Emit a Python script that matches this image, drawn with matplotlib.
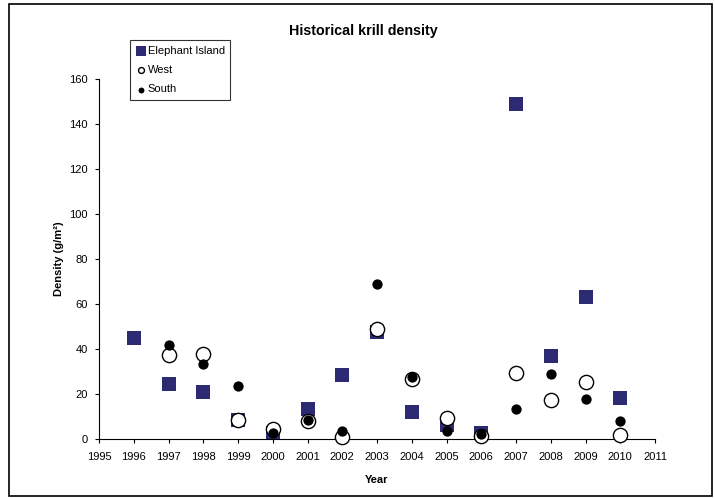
import matplotlib
matplotlib.use("Agg")
import matplotlib.pyplot as plt
from matplotlib.patches import Rectangle

plt.rcParams['font.family'] = ['Liberation Sans', 'DejaVu Sans']

years = list(range(1996, 2011))
elephant = [45, 24.4, 20.9, 8.4, 2.7, 13.3, 28.4, 47.5, 12, 6.2, 2.7, 148.9, 36.9, 63.1, 18.2]
west_years = list(range(1997, 2011))
west = [37.3, 37.8, 8.4, 4.4, 8, 0.9, 48.9, 26.7, 9.3, 1.3, 29.3, 17.3, 25.3, 1.8]
south_years = list(range(1997, 2011))
south = [41.8, 33.3, 23.6, 2.7, 8.4, 3.6, 68.9, 27.6, 3.6, 2.2, 13.3, 28.9, 17.8, 8]
xticks = list(range(1995, 2012))
yticks = [0, 20, 40, 60, 80, 100, 120, 140, 160]

fig = plt.figure(figsize=(7.15, 4.99), dpi=100)
fig.patches.append(Rectangle((9/715, 3/499), 703/715, 492/499, transform=fig.transFigure,
                             fill=False, edgecolor='black', linewidth=1.2))
ax = fig.add_axes([99/715, 1-439/499, 556/715, 360/499])

h1 = ax.scatter(years, elephant, marker='s', s=115, color='#2B2A72', linewidth=0, zorder=2, clip_on=False, label='Elephant Island')
h2 = ax.scatter(west_years, west, marker='o', s=105, facecolor='white', edgecolor='black', linewidth=1.0, zorder=3, clip_on=False, label='West')
h3 = ax.scatter(south_years, south, marker='o', s=55, color='black', linewidth=0, zorder=4, clip_on=False, label='South')

ax.set_xlim(1995, 2011)
ax.set_ylim(0, 160)
ax.set_xticks(xticks)
ax.set_yticks(yticks)
ax.tick_params(labelsize=8, length=3, width=0.8, direction='out')
ax.tick_params(axis='x', pad=6)
ax.tick_params(axis='y', pad=5)
for s in ['top', 'right']:
    ax.spines[s].set_visible(False)
ax.spines['left'].set_linewidth(0.8)
ax.spines['bottom'].set_linewidth(0.8)

fig.text(363/715, 1-31/499, 'Historical krill density', ha='center', va='center', fontsize=10.3, fontweight='bold')
fig.text(377/715, 1-480/499, 'Year', ha='center', va='center', fontsize=8, fontweight='bold')
fig.text(59/715, 1-259/499, 'Density (g/m²)', ha='center', va='center', rotation=90, fontsize=8, fontweight='bold')

leg = ax.legend(handles=[h1, h2, h3], loc='upper left', bbox_to_anchor=(130/715, 1-40/499),
                bbox_transform=fig.transFigure, fontsize=8, frameon=True, fancybox=False,
                edgecolor='black', handletextpad=0.2, handlelength=0.9,
                borderpad=0.5, labelspacing=0.85, borderaxespad=0)
leg.get_frame().set_linewidth(0.8)
for h, sz in zip(leg.legend_handles, [55, 18, 18]):
    h.set_sizes([sz])

fig.savefig('out.png', dpi=100)
